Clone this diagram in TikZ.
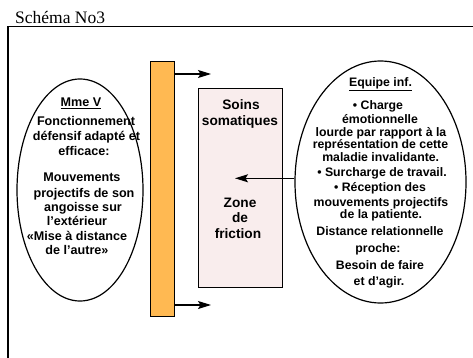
\documentclass[tikz,border=0pt]{standalone}
\usepackage{fontspec}
\setmainfont{Liberation Serif}
\newfontfamily\arialf{Liberation Sans}
\usetikzlibrary{shapes.geometric,arrows.meta}
\definecolor{barorange}{RGB}{255,185,82}
\definecolor{boxpink}{RGB}{249,237,237}
\begin{document}
\begin{tikzpicture}[x=1pt,y=-1pt,
  frameline/.style={line width=1.6pt},
  ell/.style={ellipse, draw, line width=1.2pt, inner sep=0pt},
  arr/.style={line width=1.1pt, -{Stealth[length=13pt,width=8pt,inset=2.5pt]}},
  ltxt/.style={font=\arialf\bfseries\fontsize{12.6}{13}\selectfont, inner sep=0pt, anchor=mid},
  rtxt/.style={font=\arialf\bfseries\fontsize{12.3}{12}\selectfont, inner sep=0pt, anchor=mid},
  btxt/.style={font=\arialf\bfseries\fontsize{13.7}{14}\selectfont, inner sep=0pt, anchor=mid},
  titletxt/.style={font=\fontsize{17.5}{18}\selectfont, inner sep=0pt, anchor=base west}]
\useasboundingbox (0,0) rectangle (473,358);
% title and frame
\node[titletxt] (title) at (15,24) {Schéma No3};
\coordinate (fr1) at (473,26.5);
\coordinate (fr2) at (8,26.5);
\coordinate (fr3) at (8,358);
\draw[frameline] (fr1) -- (fr2) -- (fr3);
% shapes
\node[ell, minimum width=126pt, minimum height=222pt] (mme) at (80,190) {};
\node[ell, minimum width=171pt, minimum height=242pt] (equipe) at (380.5,182) {};
\node[draw, fill=barorange, line width=0.9pt, inner sep=0pt, minimum width=24pt, minimum height=255pt] (bar) at (162,188.5) {};
\node[draw, fill=boxpink, line width=0.9pt, inner sep=0pt, minimum width=84pt, minimum height=199pt] (box) at (240,187.5) {};
% arrows
\coordinate (t1) at (211,74);
\coordinate (t2) at (211,305);
\coordinate (t3) at (235,178.3);
\draw[arr] (bar.east |- t1) -- (t1);
\draw[arr] (bar.east |- t2) -- (t2);
\draw[arr] (equipe.west |- t3) -- (t3);
% left texts
\foreach \n/\x/\y/\t in {
  1/81/104/{\underline{Mme V}},
  2/86/123.5/{Fonctionnement},
  3/86.5/138/{défensif adapté et},
  4/84/153/{efficace:},
  5/82/179/{Mouvements},
  6/84/195.5/{projectifs de son},
  7/83/209/{angoisse sur},
  8/77/223.5/{l’extérieur},
  9/77/238.5/{«Mise à distance},
  10/77/252/{de l’autre»}}
  \node[ltxt] (m\n) at (\x,\y) {\t};
% right texts
\foreach \n/\x/\y/\t in {
  1/380.5/84/{\underline{Equipe inf.}},
  2/378/107.7/{• Charge},
  3/380/121/{émotionnelle},
  4/381/134.3/{lourde par rapport à la},
  5/380.5/146.7/{représentation de cette},
  6/380.7/159/{maladie invalidante.},
  7/382/174/{• Surcharge de travail.},
  8/380/189.3/{• Réception des},
  9/381/204/{mouvements projectifs},
  10/381/216/{de la patiente.},
  11/380/233.3/{Distance relationnelle},
  12/378/250.7/{proche:},
  13/380/267.3/{Besoin de faire},
  14/379/283/{et d’agir.}}
  \node[rtxt] (e\n) at (\x,\y) {\t};
% box texts
\node[btxt] (b1) at (241,107) {Soins};
\node[btxt] (b2) at (240,123) {somatiques};
\node[btxt] (b3) at (240,205) {Zone};
\node[btxt] (b4) at (240,220.5) {de};
\node[btxt] (b5) at (238,236) {friction};
\end{tikzpicture}
\end{document}
